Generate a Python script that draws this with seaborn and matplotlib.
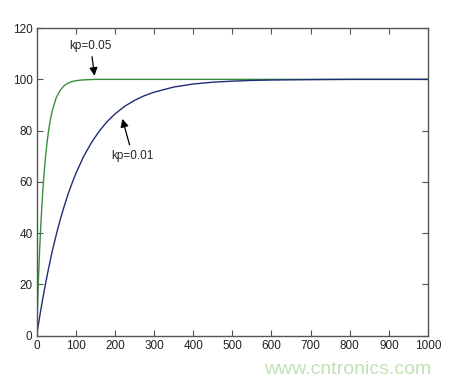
import seaborn as sns
import matplotlib.pyplot as plt
import pandas as pd

# values
t_fast = [0, 2, 4, 6, 8, 10, 13, 16, 20, 25, 30, 35, 40, 50, 60, 70, 80, 90, 100,
          120, 150, 300, 600, 1000]
y_fast = [0, 10, 19, 27, 34.4, 41, 49.5, 57, 65, 73.2, 79.4, 84.2, 87.8, 92.8, 95.7,
          97.5, 98.5, 99.1, 99.5, 99.8, 100, 100, 100, 100]

t_slow = [0, 10, 20, 30, 40, 50, 60, 70, 80, 90, 100, 120, 140, 160, 180, 200, 225,
          250, 275, 300, 350, 400, 450, 500, 550, 600, 700, 800, 1000]
y_slow = [0, 9.5, 18.1, 25.9, 33, 39.3, 45.1, 50.3, 55.1, 59.3, 63.2, 69.9, 75.3, 79.8,
          83.5, 86.5, 89.5, 91.8, 93.6, 95, 97, 98.2, 98.9, 99.3, 99.6, 99.75, 99.9, 100, 100]

labels = ['kp=0.05', 'kp=0.01']
colors = ['#3a8f3a', '#1f2d78']
x_ticks = list(range(0, 1001, 100))
y_ticks = list(range(0, 121, 20))

df = pd.concat([
    pd.DataFrame({'t': t_fast, 'y': y_fast, 'kp': labels[0]}),
    pd.DataFrame({'t': t_slow, 'y': y_slow, 'kp': labels[1]}),
])

sns.set_style('ticks')
plt.rcParams['font.family'] = ['Liberation Sans', 'DejaVu Sans']

fig = plt.figure(figsize=(4.52, 3.85), dpi=100)
ax = fig.add_axes([0.081, 0.128, 0.866, 0.799])

sns.lineplot(data=df, x='t', y='y', hue='kp', palette=colors, linewidth=1,
             legend=False, ax=ax, estimator=None, sort=False)

ax.set_xlim(0, 1000)
ax.set_ylim(0, 120)
ax.set_xticks(x_ticks)
ax.set_yticks(y_ticks)
ax.set_xlabel('')
ax.set_ylabel('')
ax.tick_params(direction='in', length=4, width=0.8, top=True, right=True,
               labelsize=8.5, colors='#555555', labelcolor='#222222', pad=3)
for s in ax.spines.values():
    s.set_visible(True)
    s.set_color('#555555')
    s.set_linewidth(1)

arrow = dict(arrowstyle='-|>', color='black', lw=0.9, mutation_scale=12,
             shrinkA=1, shrinkB=0)
ax.annotate('kp=0.05', xy=(148, 101.4), xytext=(138, 113), fontsize=8.5,
            ha='center', va='center', arrowprops=arrow)
ax.annotate('kp=0.01', xy=(219, 84.6), xytext=(245, 70.3), fontsize=8.5,
            ha='center', va='center', arrowprops=arrow)

# watermark
fig.text(0.955, 0.04, 'www.cntronics.com', color='#bfe3b5', fontsize=14,
         ha='right', va='center')

fig.savefig('out.png', dpi=100, facecolor='white')
